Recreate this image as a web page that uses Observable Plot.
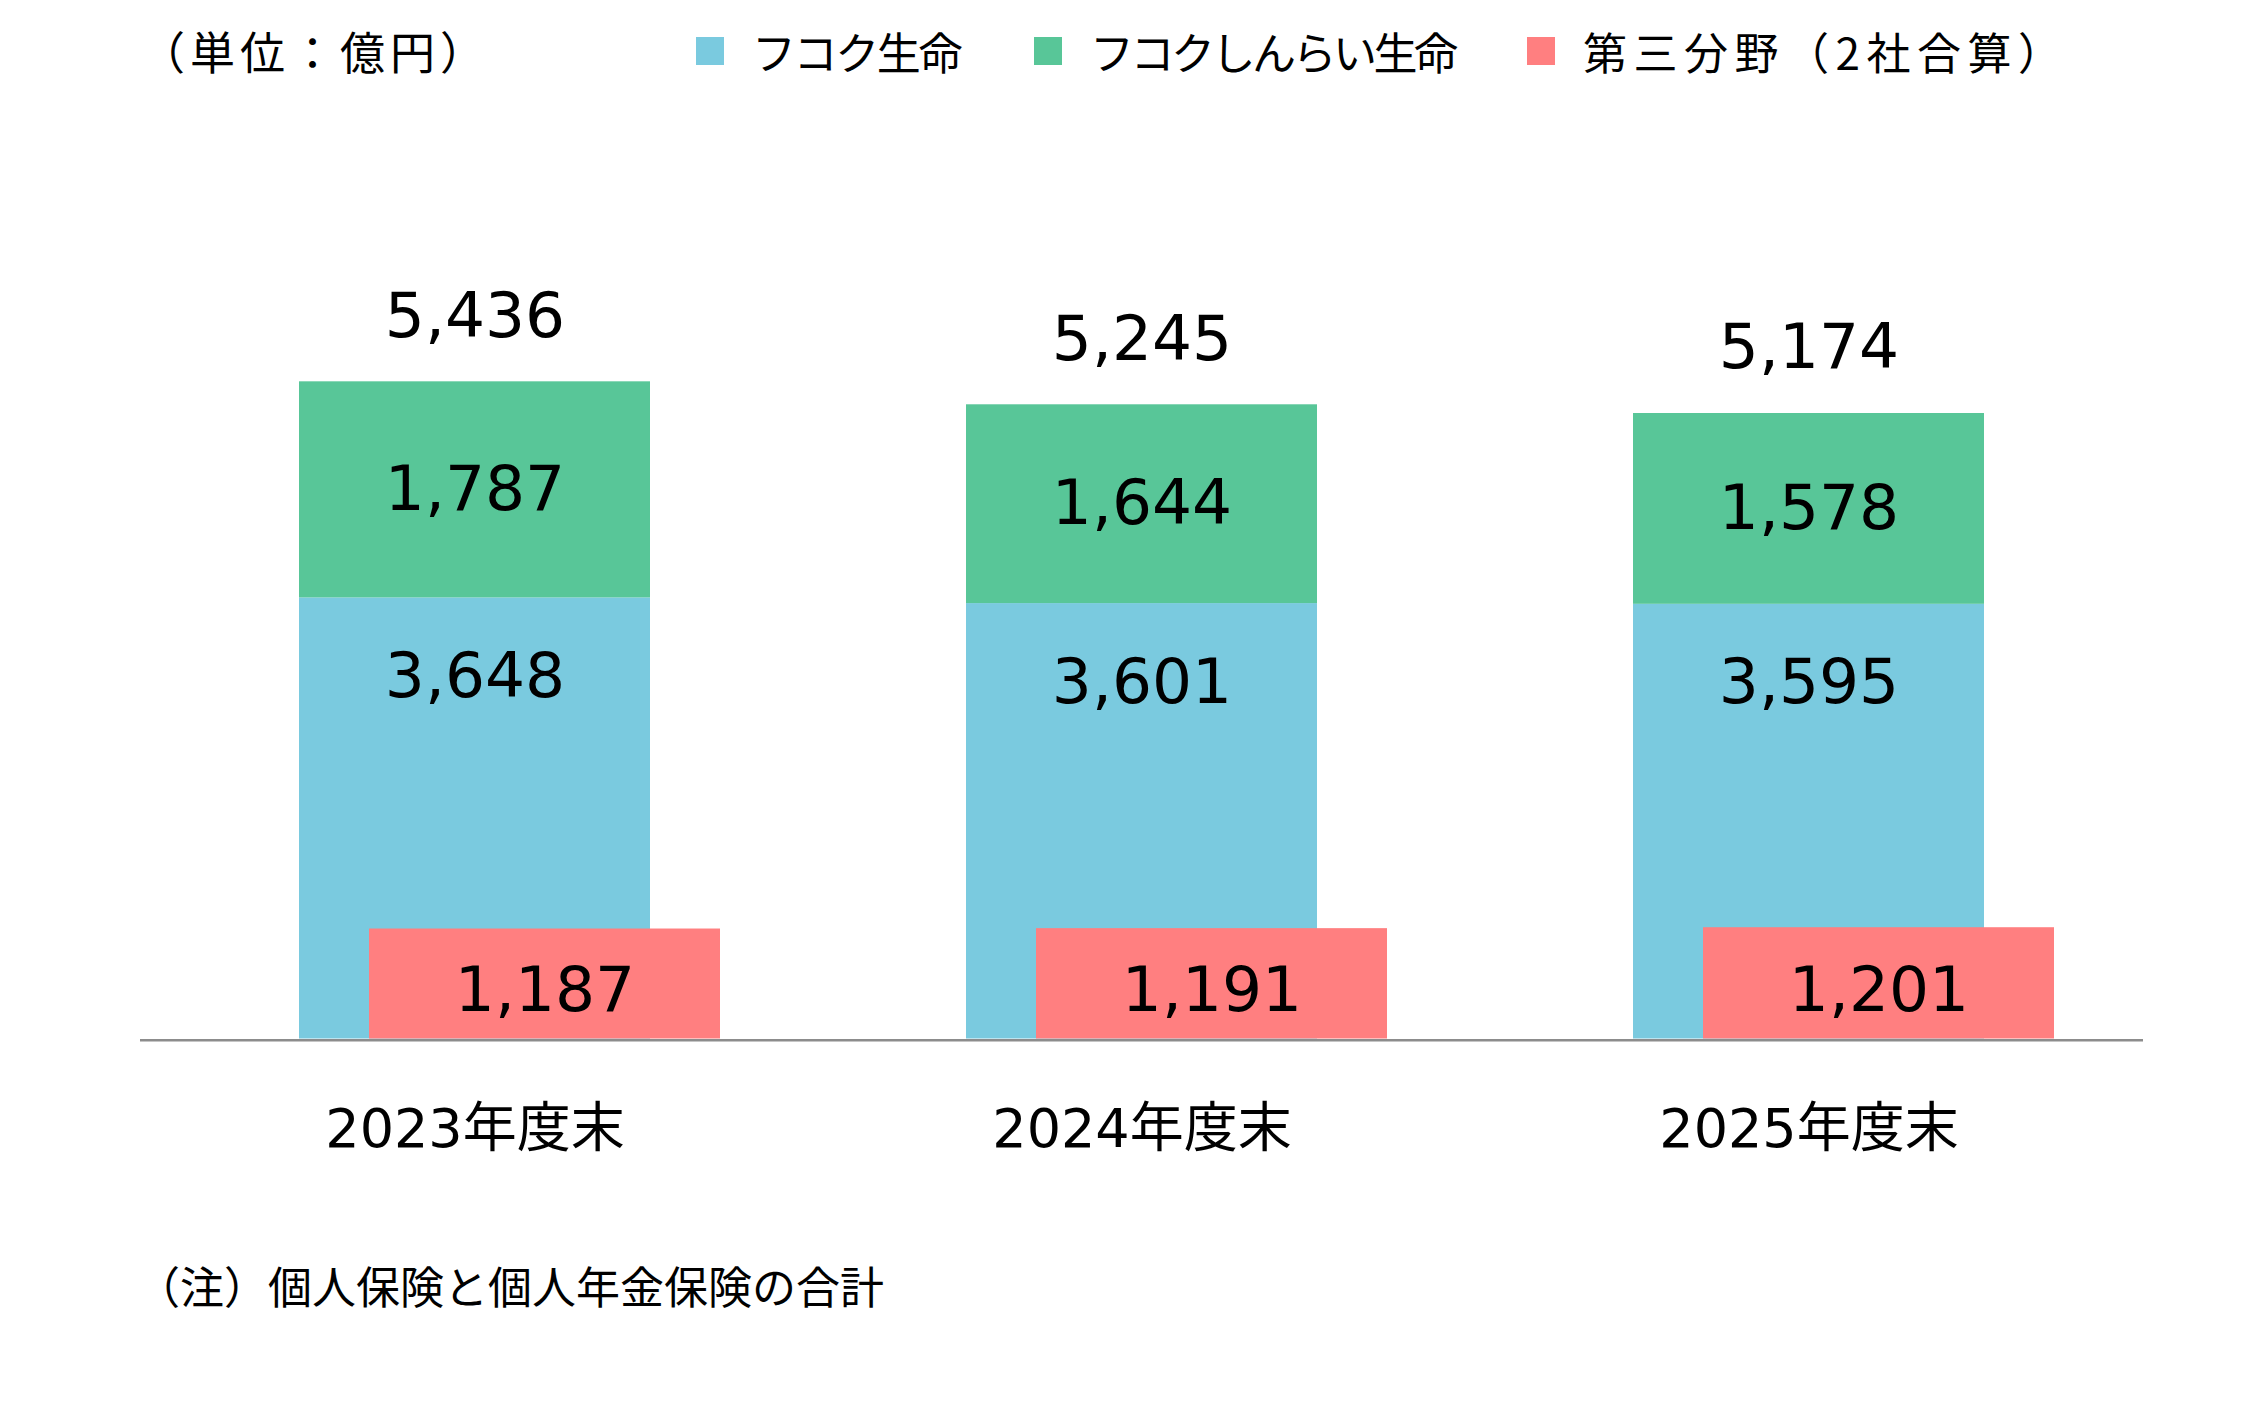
<!DOCTYPE html>
<html>
<head>
<meta charset="utf-8">
<script src="https://cdn.jsdelivr.net/npm/d3@7"></script>
<script src="https://cdn.jsdelivr.net/npm/@observablehq/plot@0.6"></script>
<style>
  html, body { margin: 0; padding: 0; background: #fff; }
  #wrap { position: relative; width: 2257px; height: 1416px; background: #fff; overflow: hidden; }
  .jp { font-family: "Noto Sans CJK JP", "Noto Sans", sans-serif; color: #000; position: absolute; line-height: 1; white-space: nowrap; }
  #chart { position: absolute; left: 0; top: 100px; }
  .sw { position: absolute; width: 28px; height: 28px; }
</style>
</head>
<body>
<div id="wrap">
  <div id="unit" class="jp" style="left:140px; top:28px; font-size:45px; letter-spacing:5px;"></div>
  <div id="legend"></div>
  <div id="chart"></div>
  <div id="note" class="jp" style="left:136px; top:1263px; font-size:44px;"></div>
</div>
<script>
// ---- data ----
const years = ["2023年度末", "2024年度末", "2025年度末"];
const fukokuSeimei = [3648, 3601, 3595];        // フコク生命
const fukokuShinrai = [1787, 1644, 1578];       // フコクしんらい生命
const daisanBunya = [1187, 1191, 1201];         // 第三分野（2社合算）
const totals = [5436, 5245, 5174];
const seriesNames = ["フコク生命", "フコクしんらい生命", "第三分野（2社合算）"];
const seriesColors = ["#7ACADF", "#58C698", "#FF7F80"];
const unitText = "（単位：億円）";
const noteText = "（注）個人保険と個人年金保険の合計";

// primary axis max and secondary axis max (第三分野 drawn on its own axis)
const yMax = 6000;
const redAxisMax = 7830;

const rows = years.map((y, i) => ({
  year: y,
  blue: fukokuSeimei[i],
  green: fukokuShinrai[i],
  red: daisanBunya[i],
  total: totals[i]
}));
const fmt = d3.format(",");
const redY = v => v * yMax / redAxisMax;

// header
document.getElementById("unit").textContent = unitText;
document.getElementById("note").textContent = noteText;
const legend = document.getElementById("legend");
const swX = [696, 1034, 1527];
const legendSpacing = [-2.4, -3.5, 6.5];
seriesNames.forEach((name, i) => {
  const s = document.createElement("div");
  s.className = "sw";
  s.style.left = swX[i] + "px";
  s.style.top = "37px";
  s.style.background = seriesColors[i];
  legend.appendChild(s);
  const t = document.createElement("div");
  t.className = "jp";
  t.style.left = (swX[i] + 56) + "px";
  t.style.top = "29px";
  t.style.fontSize = "44px";
  t.style.letterSpacing = legendSpacing[i] + "px";
  t.textContent = name;
  legend.appendChild(t);
});

const numFont = "'DejaVu Sans', 'Noto Sans CJK JP', sans-serif";

const chart = Plot.plot({
  width: 2257,
  height: 1100,
  marginTop: 213,
  marginBottom: 161.5,
  marginLeft: 140,
  marginRight: 114,
  x: { domain: years, paddingInner: 0.474, paddingOuter: 0.237, label: null },
  y: { domain: [0, yMax], axis: null },
  style: { fontFamily: numFont, color: "#000", background: "white", overflow: "visible" },
  marks: [
    Plot.barY(rows, { x: "year", y1: 0, y2: "blue", fill: seriesColors[0] }),
    Plot.barY(rows, { x: "year", y1: "blue", y2: d => d.blue + d.green, fill: seriesColors[1] }),
    Plot.barY(rows, { x: "year", y1: 0, y2: d => redY(d.red), fill: seriesColors[2], dx: 70 }),
    Plot.ruleY([0], { stroke: "#8C8C8C", strokeWidth: 2.5, dy: 1.2 }),
    Plot.axisX({ tickSize: 0, tickPadding: 70, fontSize: 54, label: null, fill: "#000" }),
    Plot.text(rows, { x: "year", y: d => d.blue + d.green, text: d => fmt(d.total), lineAnchor: "bottom", dy: -45, fontSize: 63, fill: "#000" }),
    Plot.text(rows, { x: "year", y: d => d.blue + d.green / 2, text: d => fmt(d.green), lineAnchor: "middle", fontSize: 63, fill: "#000" }),
    Plot.text(rows, { x: "year", y: "blue", text: d => fmt(d.blue), lineAnchor: "middle", dy: 79, fontSize: 63, fill: "#000" }),
    Plot.text(rows, { x: "year", y: d => redY(d.red) / 2, text: d => fmt(d.red), lineAnchor: "middle", dx: 70, dy: 7, fontSize: 63, fill: "#000" })
  ]
});
document.getElementById("chart").appendChild(chart);
</script>
</body>
</html>
